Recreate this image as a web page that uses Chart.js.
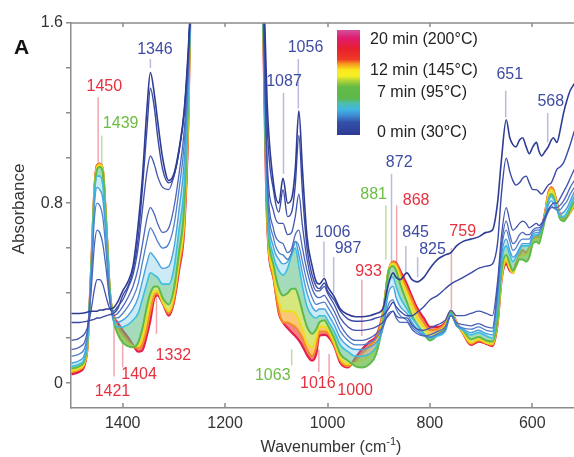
<!DOCTYPE html>
<html>
<head>
<meta charset="utf-8">
<script src="https://cdn.jsdelivr.net/npm/chart.js@4.4.0/dist/chart.umd.min.js"></script>
<style>
  html, body { margin: 0; padding: 0; background: #fff; }
  #irChart { display: block; }
</style>
</head>
<body>
<canvas id="irChart" width="574" height="457"></canvas>
<script>
// wavenumbers (cm-1) of the two measured windows
const wnLeft = [1500, 1485, 1470, 1462, 1455, 1450, 1445, 1439, 1432, 1425, 1418, 1410, 1400, 1390, 1380, 1370, 1362, 1352, 1346, 1338, 1332, 1322, 1310, 1300, 1290, 1280, 1272, 1266];
const wnRight = [1130, 1118, 1105, 1095, 1087, 1078, 1070, 1063, 1056, 1049, 1040, 1030, 1022, 1016, 1006, 1000, 987, 975, 960, 945, 933, 918, 905, 892, 881, 872, 866, 858, 845, 835, 825, 812, 800, 785, 770, 759, 748, 735, 720, 705, 690, 678, 668, 660, 651, 644, 638, 632, 625, 619, 612, 606, 599, 592, 587, 582, 575, 569, 563, 559, 552, 546, 539, 532, 526, 518];

// absorbance, one array per spectrum (0 min -> 20 min)
const min0Left = [0.31, 0.31, 0.315, 0.32, 0.32, 0.32, 0.325, 0.325, 0.33, 0.33, 0.335, 0.36, 0.41, 0.45, 0.52, 0.70, 0.90, 1.24, 1.38, 1.28, 1.17, 1.00, 0.90, 0.93, 1.04, 1.21, 1.48, 1.75];
const min1Left = [0.27, 0.27, 0.275, 0.28, 0.285, 0.29, 0.29, 0.295, 0.30, 0.305, 0.31, 0.33, 0.39, 0.43, 0.50, 0.64, 0.85, 1.15, 1.31, 1.22, 1.10, 0.95, 0.89, 0.92, 1.03, 1.20, 1.46, 1.75];
const min2Left = [0.19, 0.20, 0.24, 0.32, 0.42, 0.46, 0.46, 0.44, 0.38, 0.33, 0.32, 0.34, 0.37, 0.42, 0.48, 0.60, 0.76, 0.95, 1.01, 0.97, 0.92, 0.87, 0.86, 0.92, 1.03, 1.20, 1.45, 1.75];
const min3Left = [0.15, 0.16, 0.22, 0.40, 0.62, 0.68, 0.67, 0.62, 0.50, 0.36, 0.30, 0.31, 0.34, 0.38, 0.43, 0.51, 0.61, 0.74, 0.78, 0.75, 0.71, 0.67, 0.69, 0.78, 0.93, 1.12, 1.42, 1.75];
const min4Left = [0.12, 0.13, 0.20, 0.45, 0.74, 0.80, 0.79, 0.74, 0.57, 0.37, 0.29, 0.29, 0.31, 0.34, 0.38, 0.44, 0.53, 0.64, 0.69, 0.66, 0.63, 0.60, 0.62, 0.70, 0.86, 1.06, 1.38, 1.75];
const min5Left = [0.09, 0.10, 0.18, 0.47, 0.80, 0.87, 0.86, 0.82, 0.63, 0.38, 0.28, 0.27, 0.28, 0.30, 0.33, 0.38, 0.45, 0.54, 0.58, 0.56, 0.54, 0.51, 0.52, 0.60, 0.77, 0.98, 1.35, 1.75];
const min6Left = [0.075, 0.085, 0.16, 0.48, 0.84, 0.92, 0.92, 0.88, 0.67, 0.39, 0.28, 0.25, 0.25, 0.26, 0.28, 0.31, 0.37, 0.45, 0.49, 0.48, 0.47, 0.44, 0.44, 0.51, 0.68, 0.88, 1.30, 1.8];
const min7Left = [0.065, 0.075, 0.15, 0.48, 0.86, 0.95, 0.96, 0.94, 0.70, 0.41, 0.28, 0.22, 0.18, 0.165, 0.16, 0.18, 0.24, 0.35, 0.40, 0.43, 0.43, 0.38, 0.35, 0.42, 0.58, 0.78, 1.25, 1.85];
const min12Left = [0.055, 0.065, 0.14, 0.48, 0.87, 0.96, 0.97, 0.95, 0.70, 0.41, 0.29, 0.235, 0.20, 0.18, 0.165, 0.165, 0.20, 0.30, 0.37, 0.41, 0.41, 0.36, 0.32, 0.39, 0.54, 0.73, 1.20, 1.85];
const min16Left = [0.05, 0.06, 0.135, 0.48, 0.87, 0.97, 0.975, 0.955, 0.70, 0.40, 0.30, 0.25, 0.22, 0.19, 0.165, 0.155, 0.17, 0.25, 0.32, 0.39, 0.40, 0.36, 0.31, 0.37, 0.52, 0.70, 1.18, 1.9];
const min20Left = [0.04, 0.05, 0.13, 0.49, 0.87, 0.97, 0.975, 0.95, 0.70, 0.40, 0.30, 0.27, 0.235, 0.205, 0.17, 0.14, 0.145, 0.22, 0.28, 0.38, 0.39, 0.355, 0.30, 0.36, 0.50, 0.68, 1.15, 1.9];

const min0Right = [2.2, 1.25, 0.88, 0.80, 0.91, 0.80, 0.82, 0.95, 1.21, 0.95, 0.65, 0.52, 0.45, 0.44, 0.465, 0.43, 0.385, 0.33, 0.305, 0.295, 0.295, 0.30, 0.31, 0.33, 0.44, 0.49, 0.47, 0.46, 0.49, 0.46, 0.45, 0.47, 0.51, 0.55, 0.57, 0.58, 0.61, 0.63, 0.64, 0.65, 0.67, 0.68, 0.80, 1.00, 1.17, 1.09, 1.06, 1.05, 1.08, 1.09, 1.05, 1.02, 1.05, 1.07, 1.03, 1.01, 1.03, 1.05, 1.08, 1.09, 1.07, 1.12, 1.20, 1.26, 1.30, 1.33];
const min1Right = [2.2, 1.15, 0.85, 0.76, 0.86, 0.74, 0.76, 0.88, 1.10, 0.85, 0.60, 0.48, 0.43, 0.42, 0.445, 0.41, 0.37, 0.32, 0.285, 0.275, 0.275, 0.28, 0.29, 0.30, 0.33, 0.36, 0.34, 0.32, 0.30, 0.30, 0.315, 0.34, 0.37, 0.39, 0.42, 0.44, 0.455, 0.47, 0.49, 0.51, 0.52, 0.53, 0.62, 0.85, 1.00, 0.94, 0.90, 0.88, 0.89, 0.91, 0.92, 0.89, 0.86, 0.86, 0.85, 0.84, 0.86, 0.88, 0.89, 0.91, 0.95, 0.96, 0.98, 1.02, 1.06, 1.12];
const min2Right = [2.2, 1.0, 0.76, 0.71, 0.71, 0.66, 0.67, 0.74, 0.84, 0.70, 0.55, 0.45, 0.41, 0.41, 0.43, 0.40, 0.35, 0.29, 0.25, 0.235, 0.235, 0.24, 0.25, 0.27, 0.30, 0.32, 0.30, 0.29, 0.29, 0.26, 0.24, 0.235, 0.245, 0.26, 0.28, 0.325, 0.30, 0.30, 0.31, 0.32, 0.31, 0.30, 0.45, 0.66, 0.78, 0.72, 0.68, 0.69, 0.71, 0.72, 0.71, 0.69, 0.70, 0.71, 0.70, 0.71, 0.74, 0.77, 0.79, 0.80, 0.80, 0.82, 0.85, 0.88, 0.91, 0.95];
const min3Right = [2.2, 0.95, 0.68, 0.63, 0.62, 0.58, 0.60, 0.66, 0.68, 0.60, 0.50, 0.42, 0.385, 0.38, 0.39, 0.37, 0.32, 0.26, 0.21, 0.19, 0.19, 0.20, 0.22, 0.25, 0.31, 0.32, 0.29, 0.27, 0.27, 0.24, 0.22, 0.21, 0.215, 0.23, 0.25, 0.30, 0.27, 0.26, 0.255, 0.265, 0.25, 0.245, 0.42, 0.62, 0.72, 0.66, 0.62, 0.63, 0.66, 0.67, 0.66, 0.66, 0.68, 0.69, 0.69, 0.70, 0.73, 0.76, 0.78, 0.78, 0.78, 0.79, 0.81, 0.84, 0.87, 0.90];
const min4Right = [2.2, 0.90, 0.64, 0.58, 0.57, 0.55, 0.58, 0.63, 0.61, 0.54, 0.45, 0.38, 0.35, 0.355, 0.36, 0.34, 0.29, 0.23, 0.19, 0.17, 0.17, 0.18, 0.20, 0.25, 0.35, 0.37, 0.33, 0.30, 0.28, 0.25, 0.23, 0.21, 0.205, 0.22, 0.24, 0.30, 0.26, 0.245, 0.24, 0.25, 0.235, 0.23, 0.40, 0.60, 0.68, 0.63, 0.59, 0.60, 0.63, 0.64, 0.64, 0.64, 0.67, 0.68, 0.68, 0.69, 0.73, 0.77, 0.79, 0.78, 0.77, 0.77, 0.79, 0.81, 0.84, 0.87];
const min5Right = [2.2, 0.86, 0.60, 0.55, 0.53, 0.54, 0.58, 0.63, 0.57, 0.49, 0.40, 0.34, 0.32, 0.33, 0.33, 0.31, 0.26, 0.20, 0.165, 0.15, 0.15, 0.16, 0.18, 0.24, 0.40, 0.43, 0.38, 0.34, 0.31, 0.27, 0.24, 0.215, 0.205, 0.215, 0.235, 0.305, 0.255, 0.24, 0.225, 0.235, 0.22, 0.215, 0.38, 0.57, 0.64, 0.59, 0.56, 0.57, 0.60, 0.62, 0.62, 0.62, 0.66, 0.67, 0.67, 0.69, 0.74, 0.79, 0.81, 0.80, 0.77, 0.75, 0.76, 0.78, 0.81, 0.85];
const min6Right = [2.2, 0.82, 0.56, 0.50, 0.48, 0.51, 0.57, 0.60, 0.52, 0.43, 0.34, 0.30, 0.29, 0.30, 0.30, 0.28, 0.23, 0.17, 0.14, 0.12, 0.12, 0.13, 0.16, 0.25, 0.45, 0.47, 0.43, 0.38, 0.33, 0.29, 0.26, 0.22, 0.20, 0.21, 0.23, 0.31, 0.255, 0.235, 0.215, 0.225, 0.21, 0.20, 0.34, 0.54, 0.61, 0.57, 0.54, 0.56, 0.59, 0.61, 0.61, 0.61, 0.65, 0.66, 0.66, 0.69, 0.75, 0.81, 0.83, 0.82, 0.78, 0.74, 0.74, 0.76, 0.79, 0.83];
const min7Right = [2.2, 0.78, 0.52, 0.42, 0.39, 0.40, 0.42, 0.42, 0.38, 0.32, 0.25, 0.22, 0.24, 0.27, 0.28, 0.26, 0.20, 0.13, 0.10, 0.075, 0.07, 0.085, 0.13, 0.27, 0.50, 0.52, 0.50, 0.44, 0.36, 0.30, 0.26, 0.22, 0.19, 0.215, 0.245, 0.315, 0.26, 0.235, 0.195, 0.205, 0.19, 0.185, 0.28, 0.50, 0.57, 0.53, 0.50, 0.52, 0.55, 0.55, 0.54, 0.56, 0.62, 0.63, 0.62, 0.66, 0.73, 0.81, 0.84, 0.83, 0.78, 0.73, 0.72, 0.74, 0.77, 0.81];
const min12Right = [2.2, 0.76, 0.48, 0.36, 0.32, 0.32, 0.32, 0.31, 0.28, 0.24, 0.18, 0.16, 0.20, 0.25, 0.25, 0.24, 0.18, 0.11, 0.085, 0.09, 0.10, 0.12, 0.16, 0.29, 0.50, 0.53, 0.52, 0.47, 0.40, 0.34, 0.29, 0.25, 0.215, 0.225, 0.255, 0.315, 0.265, 0.225, 0.18, 0.195, 0.18, 0.175, 0.27, 0.47, 0.55, 0.51, 0.49, 0.52, 0.56, 0.57, 0.57, 0.59, 0.63, 0.64, 0.64, 0.67, 0.75, 0.83, 0.86, 0.85, 0.79, 0.74, 0.72, 0.74, 0.76, 0.80];
const min16Right = [2.2, 0.74, 0.46, 0.32, 0.27, 0.27, 0.26, 0.25, 0.23, 0.20, 0.15, 0.12, 0.16, 0.23, 0.23, 0.225, 0.17, 0.10, 0.075, 0.10, 0.13, 0.165, 0.20, 0.31, 0.50, 0.54, 0.53, 0.49, 0.42, 0.37, 0.32, 0.27, 0.235, 0.24, 0.265, 0.315, 0.27, 0.22, 0.175, 0.19, 0.178, 0.17, 0.27, 0.47, 0.54, 0.51, 0.49, 0.53, 0.57, 0.59, 0.58, 0.60, 0.64, 0.65, 0.65, 0.68, 0.76, 0.84, 0.87, 0.86, 0.80, 0.75, 0.73, 0.74, 0.76, 0.79];
const min20Right = [2.2, 0.72, 0.46, 0.31, 0.27, 0.245, 0.225, 0.21, 0.19, 0.165, 0.125, 0.10, 0.13, 0.21, 0.215, 0.21, 0.165, 0.09, 0.07, 0.115, 0.15, 0.185, 0.21, 0.31, 0.49, 0.54, 0.535, 0.50, 0.44, 0.385, 0.335, 0.29, 0.25, 0.25, 0.27, 0.32, 0.27, 0.22, 0.17, 0.185, 0.175, 0.165, 0.26, 0.46, 0.53, 0.50, 0.49, 0.53, 0.57, 0.59, 0.58, 0.60, 0.64, 0.65, 0.66, 0.69, 0.76, 0.84, 0.87, 0.86, 0.80, 0.75, 0.73, 0.74, 0.76, 0.79];

const xTickValues = [1400, 1200, 1000, 800, 600];
const yTickValues = [0, 0.2, 0.4, 0.6, 0.8, 1.0, 1.2, 1.4, 1.6];
const yLabelled = [0, 0.8, 1.6];

// peak labels: text, leader line at wn from/to absorbance, text centre tx/ty
const peakLabels = [
  { text: '1450', c: 'red',   wn: 1448, from: 1.27, to: 0.98, tx: 1436, ty: 1.317 },
  { text: '1439', c: 'green', wn: 1441, from: 1.10, to: 0.97, tx: 1404, ty: 1.155 },
  { text: '1346', c: 'blue',  wn: 1346, from: 1.44, to: 1.40, tx: 1337, ty: 1.483 },
  { text: '1421', c: 'red',   wn: 1417, from: 0.28, to: 0.03, tx: 1420, ty: -0.039 },
  { text: '1404', c: 'red',   wn: 1400, from: 0.21, to: 0.07, tx: 1368, ty: 0.04 },
  { text: '1332', c: 'red',   wn: 1334, from: 0.38, to: 0.22, tx: 1301, ty: 0.124 },
  { text: '1087', c: 'blue',  wn: 1086, from: 1.29, to: 0.93, tx: 1085, ty: 1.339 },
  { text: '1056', c: 'blue',  wn: 1057, from: 1.44, to: 1.22, tx: 1043, ty: 1.492 },
  { text: '1006', c: 'blue',  wn: 1007, from: 0.63, to: 0.47, tx: 990,  ty: 0.668 },
  { text: '987',  c: 'blue',  wn: 988,  from: 0.56, to: 0.40, tx: 960,  ty: 0.599 },
  { text: '933',  c: 'red',   wn: 933,  from: 0.46, to: 0.21, tx: 920,  ty: 0.495 },
  { text: '881',  c: 'green', wn: 886,  from: 0.79, to: 0.55, tx: 910,  ty: 0.836 },
  { text: '872',  c: 'blue',  wn: 875,  from: 0.93, to: 0.54, tx: 860,  ty: 0.981 },
  { text: '868',  c: 'red',   wn: 865,  from: 0.79, to: 0.54, tx: 827,  ty: 0.813 },
  { text: '845',  c: 'blue',  wn: 847,  from: 0.61, to: 0.49, tx: 828,  ty: 0.668 },
  { text: '825',  c: 'blue',  wn: 824,  from: 0.56, to: 0.47, tx: 795,  ty: 0.594 },
  { text: '759',  c: 'red',   wn: 758,  from: 0.60, to: 0.33, tx: 736,  ty: 0.672 },
  { text: '651',  c: 'blue',  wn: 652,  from: 1.30, to: 1.18, tx: 644,  ty: 1.369 },
  { text: '568',  c: 'blue',  wn: 570,  from: 1.20, to: 1.07, tx: 564,  ty: 1.25 },
  { text: '1063', c: 'green', wn: 1070, from: 0.15, to: 0.08, tx: 1107, ty: 0.036 },
  { text: '1016', c: 'red',   wn: 1017, from: 0.15, to: 0.05, tx: 1019, ty: 0.0 },
  { text: '1000', c: 'red',   wn: 997,  from: 0.13, to: 0.03, tx: 946,  ty: -0.031 }
];

const legendLabels = ['20 min (200°C)', '12 min (145°C)', '7 min (95°C)', '0 min (30°C)'];

// styling
const labelColors = { blue: '#3f4ca3', red: '#e6303f', green: '#6dbd44' };
const leaderColors = { blue: '#b9bdd9', red: '#f3a6ae', green: '#bcdca2' };

const curves = [
  { left: min0Left,  right: min0Right,  color: '#2e3c94', width: 1.6 },
  { left: min1Left,  right: min1Right,  color: '#3a4aa4', width: 1.4 },
  { left: min2Left,  right: min2Right,  color: '#4354ad', width: 1.3 },
  { left: min3Left,  right: min3Right,  color: '#4b66bb', width: 1.3 },
  { left: min4Left,  right: min4Right,  color: '#4f80cc', width: 1.3 },
  { left: min5Left,  right: min5Right,  color: '#48a0dc', width: 1.4 },
  { left: min6Left,  right: min6Right,  color: '#3dbfe0', width: 1.6, fill: 'rgba(75,180,225,0.28)' },
  { left: min7Left,  right: min7Right,  color: '#5fba4a', width: 2,   fill: 'rgba(90,190,130,0.55)' },
  { left: min12Left, right: min12Right, color: '#f0dc1e', width: 2,   fill: 'rgba(190,215,45,0.62)' },
  { left: min16Left, right: min16Right, color: '#f38b22', width: 2,   fill: 'rgba(247,165,30,0.62)' },
  { left: min20Left, right: min20Right, color: '#e3224c', width: 2.2, fill: 'rgba(235,45,55,0.6)' }
];

const datasets = curves.map(c => ({
  data: wnLeft.map((w, i) => ({ x: w, y: c.left[i] }))
    .concat([{ x: 1200, y: null }])
    .concat(wnRight.map((w, i) => ({ x: w, y: c.right[i] }))),
  borderColor: c.color,
  borderWidth: c.width,
  backgroundColor: c.fill || 'transparent',
  fill: c.fill ? '-1' : false,
  pointRadius: 0,
  cubicInterpolationMode: 'monotone',
  spanGaps: false
}));

const FONT = '"Liberation Sans", Arial, sans-serif';

const decor = {
  id: 'decor',
  beforeDatasetsDraw(chart) {
    const { ctx, scales: { x, y } } = chart;
    ctx.save();
    ctx.lineWidth = 1.5;
    peakLabels.forEach(p => {
      const px = x.getPixelForValue(p.wn);
      ctx.strokeStyle = leaderColors[p.c];
      ctx.beginPath();
      ctx.moveTo(px, y.getPixelForValue(p.from));
      ctx.lineTo(px, y.getPixelForValue(p.to));
      ctx.stroke();
    });
    ctx.restore();
  },
  afterDraw(chart) {
    const { ctx, chartArea: a, scales: { x, y } } = chart;
    ctx.save();

    // top frame line and inward x ticks
    ctx.strokeStyle = '#8c8c8c';
    ctx.lineWidth = 1.5;
    ctx.beginPath();
    ctx.moveTo(a.left, a.top);
    ctx.lineTo(a.right, a.top);
    xTickValues.forEach(v => {
      const px = Math.round(x.getPixelForValue(v));
      ctx.moveTo(px, a.bottom);
      ctx.lineTo(px, a.bottom - 5);
      ctx.moveTo(px, a.top);
      ctx.lineTo(px, a.top + 4);
    });
    ctx.stroke();

    // peak labels
    ctx.font = '16px ' + FONT;
    ctx.textAlign = 'center';
    ctx.textBaseline = 'middle';
    peakLabels.forEach(p => {
      ctx.fillStyle = labelColors[p.c];
      ctx.fillText(p.text, x.getPixelForValue(p.tx), y.getPixelForValue(p.ty));
    });

    // colour bar legend
    const g = ctx.createLinearGradient(0, 30, 0, 135);
    g.addColorStop(0.0, '#d2509a');
    g.addColorStop(0.08, '#e01a6e');
    g.addColorStop(0.18, '#e8202c');
    g.addColorStop(0.28, '#ef3a24');
    g.addColorStop(0.32, '#f6921e');
    g.addColorStop(0.38, '#fbe91c');
    g.addColorStop(0.44, '#f4ee24');
    g.addColorStop(0.48, '#b6d436');
    g.addColorStop(0.54, '#66bb47');
    g.addColorStop(0.65, '#5cb84a');
    g.addColorStop(0.70, '#4dbdb0');
    g.addColorStop(0.76, '#3fb6e4');
    g.addColorStop(0.82, '#3f86d0');
    g.addColorStop(0.88, '#3350a8');
    g.addColorStop(1.0, '#2e3a94');
    ctx.fillStyle = g;
    ctx.fillRect(337, 30, 23, 105);

    ctx.fillStyle = '#222';
    ctx.textAlign = 'left';
    ctx.fillText(legendLabels[0], 370, 40);
    ctx.fillText(legendLabels[1], 370, 71);
    ctx.fillText(legendLabels[2], 377, 93);
    ctx.fillText(legendLabels[3], 377, 133);

    // axis titles
    ctx.fillStyle = '#333';
    ctx.font = '16px ' + FONT;
    ctx.textAlign = 'left';
    ctx.textBaseline = 'middle';
    const t1 = 'Wavenumber (cm';
    const w1 = ctx.measureText(t1).width;
    ctx.font = '11px ' + FONT;
    const w2 = ctx.measureText('-1').width;
    ctx.font = '16px ' + FONT;
    const w3 = ctx.measureText(')').width;
    const tx = 331 - (w1 + w2 + w3) / 2;
    ctx.fillText(t1, tx, 448);
    ctx.font = '11px ' + FONT;
    ctx.fillText('-1', tx + w1, 442);
    ctx.font = '16px ' + FONT;
    ctx.fillText(')', tx + w1 + w2, 448);

    ctx.save();
    ctx.translate(19, 209);
    ctx.rotate(-Math.PI / 2);
    ctx.textAlign = 'center';
    ctx.font = '17px ' + FONT;
    ctx.fillText('Absorbance', 0, 0);
    ctx.restore();

    // panel letter
    ctx.font = 'bold 21px ' + FONT;
    ctx.fillStyle = '#111';
    ctx.textAlign = 'left';
    ctx.fillText('A', 14, 48);

    ctx.restore();
  }
};

const ctx = document.getElementById('irChart').getContext('2d');
new Chart(ctx, {
  type: 'line',
  data: { datasets: datasets },
  options: {
    responsive: false,
    animation: false,
    devicePixelRatio: 1,
    events: [],
    layout: { padding: { left: 0, right: 0, top: 23, bottom: 0 } },
    plugins: { legend: { display: false }, tooltip: { enabled: false } },
    scales: {
      x: {
        type: 'linear',
        reverse: true,
        min: 518.6,
        max: 1501,
        afterFit: s => { s.height = 49; },
        afterBuildTicks: s => { s.ticks = xTickValues.map(v => ({ value: v })); },
        ticks: {
          autoSkip: false,
          maxRotation: 0,
          padding: 6,
          color: '#333',
          font: { size: 16, family: FONT },
          callback: v => String(v)
        },
        grid: { display: false, drawTicks: false },
        border: { display: true, color: '#8c8c8c', width: 1.5 }
      },
      y: {
        min: -0.11,
        max: 1.6,
        afterFit: s => { s.width = 71; },
        afterBuildTicks: s => { s.ticks = yTickValues.map(v => ({ value: v })); },
        ticks: {
          padding: 3,
          color: '#333',
          font: { size: 16, family: FONT },
          callback: v => {
            const r = Math.round(v * 10) / 10;
            return yLabelled.includes(r) ? String(r) : '';
          }
        },
        grid: { drawOnChartArea: false, tickLength: 5, color: '#8c8c8c', lineWidth: 1.5 },
        border: { display: true, color: '#8c8c8c', width: 1.5 }
      }
    }
  },
  plugins: [decor]
});
</script>
</body>
</html>
